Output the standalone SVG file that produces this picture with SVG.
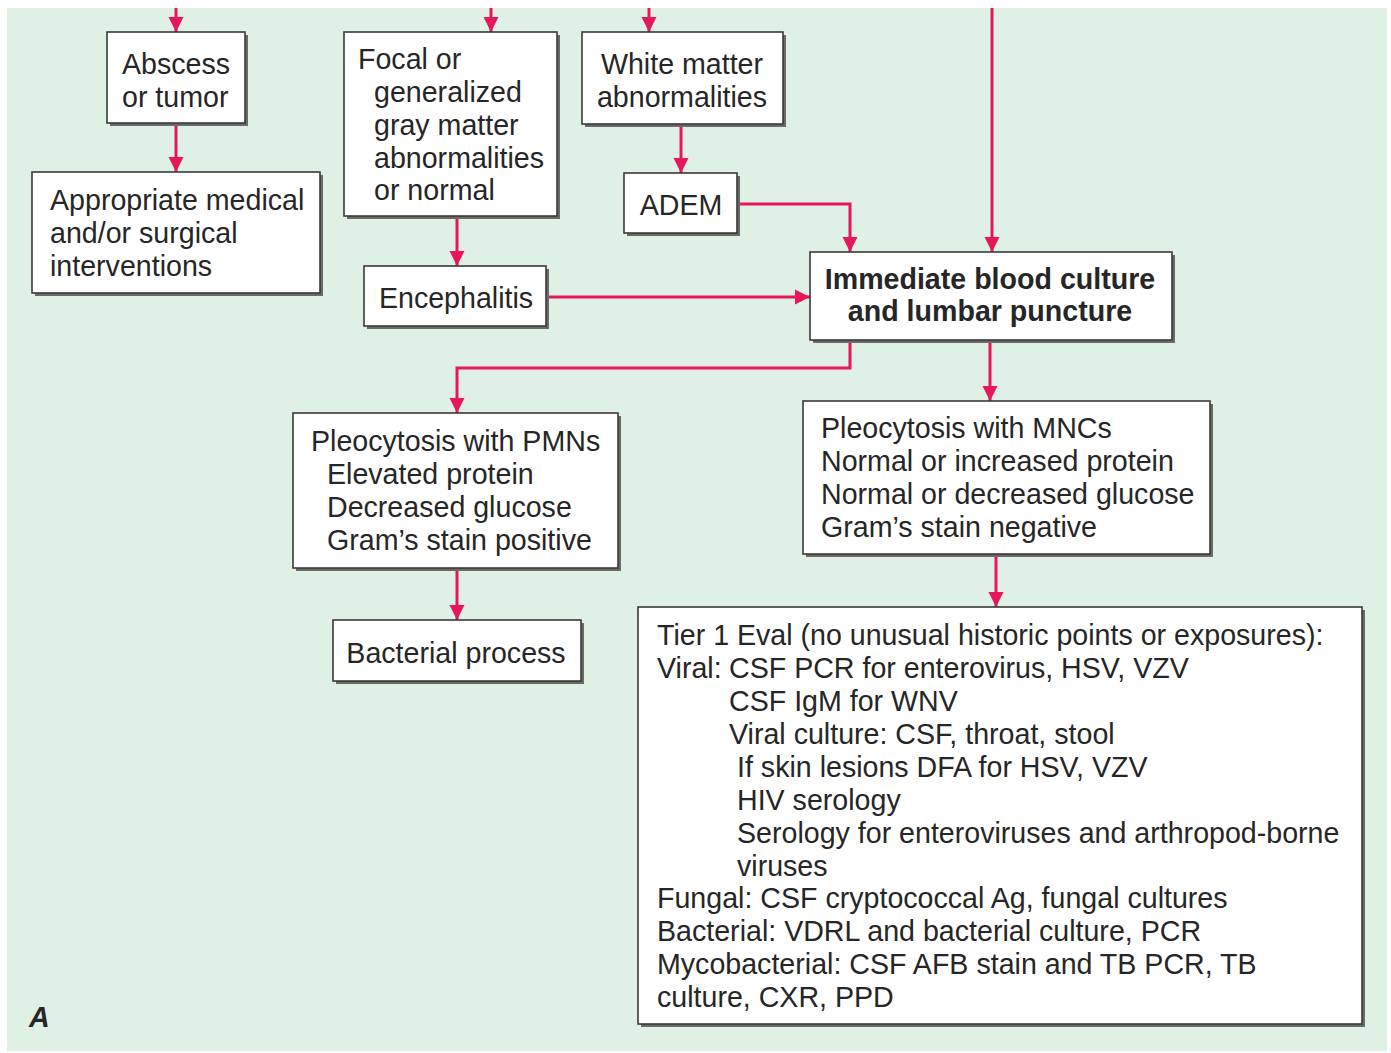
<svg xmlns="http://www.w3.org/2000/svg" width="1391" height="1053" viewBox="0 0 1391 1053">
<defs>
<marker id="ah" viewBox="0 0 10 10" refX="10" refY="5" markerWidth="5" markerHeight="5.5" markerUnits="strokeWidth" orient="auto">
<path d="M0,0 L10,5 L0,10 z" fill="#e8175d"/>
</marker>
</defs>
<style>
.bx{fill:#fff;stroke:#3a3a3a;stroke-width:1.6}
.sh{fill:#6a6a6a}
.t{font-family:"Liberation Sans",Arial,sans-serif;font-size:28.6px;fill:#262626}
.b{font-weight:bold}
.m{text-anchor:middle}
.c{fill:none;stroke:#e8175d;stroke-width:3;marker-end:url(#ah)}
</style>
<rect x="0" y="0" width="1391" height="1053" fill="#ffffff"/>
<rect x="7" y="8" width="1380" height="1043" fill="#dff0e4"/>

<g id="connectors">
<path class="c" d="M176,8 V32"/>
<path class="c" d="M491,8 V32"/>
<path class="c" d="M649,8 V32"/>
<path class="c" d="M176,123 V172"/>
<path class="c" d="M457,216 V266"/>
<path class="c" d="M681,124 V173"/>
<path class="c" d="M737,204 H850 V252"/>
<path class="c" d="M992,8 V252"/>
<path class="c" d="M546,297 H810"/>
<path class="c" d="M850,340 V368 H457 V413"/>
<path class="c" d="M990,340 V401"/>
<path class="c" d="M457,568 V620"/>
<path class="c" d="M996,554 V607"/>
</g>

<g id="abscess">
<rect class="sh" x="110" y="35" width="138" height="91"/>
<rect class="bx" x="107" y="32" width="138" height="91"/>
<text class="t" x="122" y="74">Abscess</text>
<text class="t" x="122" y="107">or tumor</text>
</g>

<g id="appropriate">
<rect class="sh" x="35" y="175" width="288" height="121"/>
<rect class="bx" x="32" y="172" width="288" height="121"/>
<text class="t" x="50" y="210">Appropriate medical</text>
<text class="t" x="50" y="243">and/or surgical</text>
<text class="t" x="50" y="276">interventions</text>
</g>

<g id="focal">
<rect class="sh" x="347" y="35" width="213" height="184"/>
<rect class="bx" x="344" y="32" width="213" height="184"/>
<text class="t" x="358" y="69">Focal or</text>
<text class="t" x="374" y="102">generalized</text>
<text class="t" x="374" y="135">gray matter</text>
<text class="t" x="374" y="168">abnormalities</text>
<text class="t" x="374" y="200">or normal</text>
</g>

<g id="white">
<rect class="sh" x="585" y="35" width="201" height="92"/>
<rect class="bx" x="582" y="32" width="201" height="92"/>
<text class="t m" x="682" y="74">White matter</text>
<text class="t m" x="682" y="107">abnormalities</text>
</g>

<g id="adem">
<rect class="sh" x="627" y="176" width="113" height="60"/>
<rect class="bx" x="624" y="173" width="113" height="60"/>
<text class="t m" x="681" y="215">ADEM</text>
</g>

<g id="encephalitis">
<rect class="sh" x="367" y="269" width="182" height="60"/>
<rect class="bx" x="364" y="266" width="182" height="60"/>
<text class="t m" x="456" y="308">Encephalitis</text>
</g>

<g id="immediate">
<rect class="sh" x="813" y="255" width="362" height="88"/>
<rect class="bx" x="810" y="252" width="362" height="88"/>
<text class="t b m" x="990" y="289">Immediate blood culture</text>
<text class="t b m" x="990" y="321">and lumbar puncture</text>
</g>

<g id="pmns">
<rect class="sh" x="296" y="416" width="325" height="155"/>
<rect class="bx" x="293" y="413" width="325" height="155"/>
<text class="t" x="311" y="451">Pleocytosis with PMNs</text>
<text class="t" x="327" y="484">Elevated protein</text>
<text class="t" x="327" y="517">Decreased glucose</text>
<text class="t" x="327" y="550">Gram’s stain positive</text>
</g>

<g id="bacterial">
<rect class="sh" x="336" y="623" width="248" height="61"/>
<rect class="bx" x="333" y="620" width="248" height="61"/>
<text class="t m" x="456" y="663">Bacterial process</text>
</g>

<g id="mncs">
<rect class="sh" x="806" y="404" width="407" height="153"/>
<rect class="bx" x="803" y="401" width="407" height="153"/>
<text class="t" x="821" y="438">Pleocytosis with MNCs</text>
<text class="t" x="821" y="471">Normal or increased protein</text>
<text class="t" x="821" y="504">Normal or decreased glucose</text>
<text class="t" x="821" y="537">Gram’s stain negative</text>
</g>

<g id="tier1">
<rect class="sh" x="641" y="610" width="724" height="417"/>
<rect class="bx" x="638" y="607" width="724" height="417"/>
<text class="t" x="657" y="645">Tier 1 Eval (no unusual historic points or exposures):</text>
<text class="t" x="657" y="678">Viral:</text>
<text class="t" x="729" y="678">CSF PCR for enterovirus, HSV, VZV</text>
<text class="t" x="729" y="711">CSF IgM for WNV</text>
<text class="t" x="729" y="744">Viral culture: CSF, throat, stool</text>
<text class="t" x="737" y="777">If skin lesions DFA for HSV, VZV</text>
<text class="t" x="737" y="810">HIV serology</text>
<text class="t" x="737" y="843">Serology for enteroviruses and arthropod-borne</text>
<text class="t" x="737" y="876">viruses</text>
<text class="t" x="657" y="908">Fungal: CSF cryptococcal Ag, fungal cultures</text>
<text class="t" x="657" y="941">Bacterial: VDRL and bacterial culture, PCR</text>
<text class="t" x="657" y="974">Mycobacterial: CSF AFB stain and TB PCR, TB</text>
<text class="t" x="657" y="1007">culture, CXR, PPD</text>
</g>

<text class="t b" x="29" y="1027" font-style="italic">A</text>
</svg>
